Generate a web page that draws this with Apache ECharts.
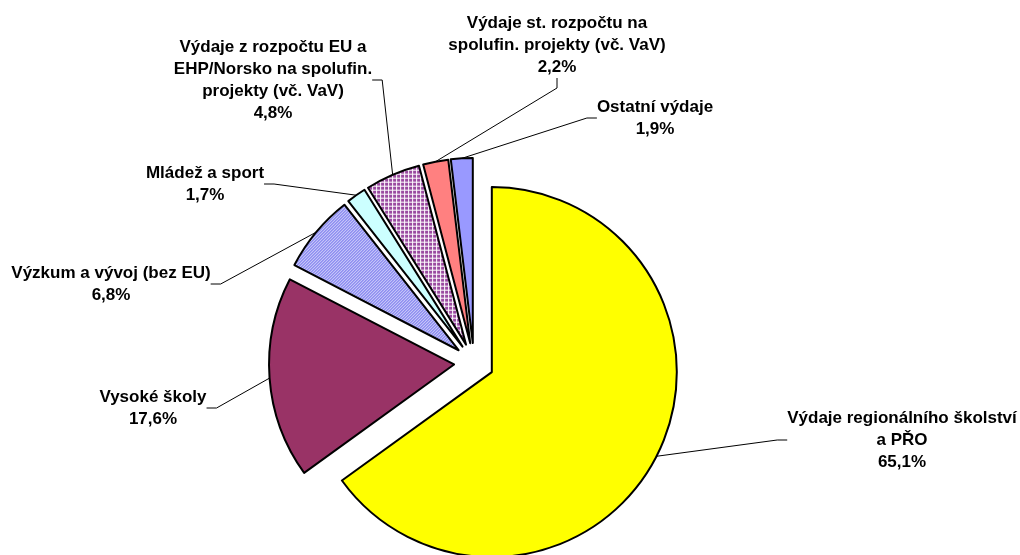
<!DOCTYPE html>
<html>
<head>
<meta charset="utf-8">
<script src="https://cdn.jsdelivr.net/npm/echarts@6/dist/echarts.min.js"></script>
<style>
html,body{margin:0;padding:0;background:#fff}
#main{width:1020px;height:555px}
</style>
</head>
<body>
<div id="main"></div>
<script>
// kategorie vydaju (po smeru hodin od 12:00)
var categories = [
	"Výdaje regionálního školství\na PŘO",
	"Vysoké školy",
	"Výzkum a vývoj (bez EU)",
	"Mládež a sport",
	"Výdaje z rozpočtu EU a\nEHP/Norsko na spolufin.\nprojekty (vč. VaV)",
	"Výdaje st. rozpočtu na\nspolufin. projekty (vč. VaV)",
	"Ostatní výdaje"
];
var shares = [65.1, 17.6, 6.8, 1.7, 4.8, 2.2, 1.9];

// umisteni popisku (stred bloku textu) a strana, kam vede odkazova cara
var labelPos = [[902,440],[153,408],[111,284],[205,184],[273,80],[557,45],[655,118]];
var labelSide = ['left','right','right','right','right','bottom','left'];

//jemny vzor pro srafovane vysece
function makePattern(size, bg, fg, fn){
	var c = document.createElement('canvas');
	c.width = c.height = size;
	var ctx = c.getContext('2d');
	ctx.fillStyle = bg;
	ctx.fillRect(0,0,size,size);
	ctx.fillStyle = fg;
	for(var x=0;x<size;x++){
		for(var y=0;y<size;y++){
			if(fn(x,y)) ctx.fillRect(x,y,1,1);
		}
	}
	return {image:c, repeat:'repeat'};
}
var diagBlue = makePattern(3,'#7a7aef','#ffffff',function(x,y){return (x+y)%3==0;});
var gridPurple = makePattern(4,'#9a4aa0','#ffffff',function(x,y){return x==0||y==0;});

var colors = ['#ffff00','#993366',diagBlue,'#ccffff',gridPurple,'#ff8080','#9999ff'];

var R = 185, OFFSET = 20;

function fmt(v){
	return v.toFixed(1).replace('.',',') + '%';
}

var sliceData = [], labelData = [];
for(var i=0;i<categories.length;i++){
	sliceData.push({
		name:categories[i],
		value:shares[i],
		selected:true,
		itemStyle:{color:colors[i]}
	});
	labelData.push({name:categories[i], value:shares[i]});
}

//popisky: cara zacina na okraji vysunute vysece v jejim stredu
function placeLabel(p){
	var pos = labelPos[p.dataIndex];
	var side = labelSide[p.dataIndex];
	var w = p.labelRect.width, h = p.labelRect.height;
	var ax = pos[0], ay = pos[1], ex = pos[0], ey = pos[1];
	var len = 10;
	if(side == 'left'){ ax = pos[0] - w/2; ex = ax - len; }
	else if(side == 'right'){ ax = pos[0] + w/2; ex = ax + len; }
	else if(side == 'bottom'){ ay = pos[1] + h/2; ey = ay + len; }
	else { ay = pos[1] - h/2; ey = ay - len; }
	var res = {x:pos[0], y:pos[1], align:'center', verticalAlign:'middle'};
	if(p.labelLinePoints){
		res.labelLinePoints = [p.labelLinePoints[0], [ex,ey], [ax,ay]];
	}
	return res;
}

var myChart = echarts.init(document.getElementById('main'));
var option = {
	animation:false,
	series:[{
		type:'pie',
		center:[474,363],
		radius:R,
		startAngle:90,
		clockwise:true,
		selectedMode:'multiple',
		selectedOffset:OFFSET,
		silent:true,
		itemStyle:{borderColor:'#000',borderWidth:2},
		select:{itemStyle:{borderColor:'#000',borderWidth:2}},
		emphasis:{disabled:true},
		label:{show:false},
		labelLine:{show:false},
		data:sliceData
	},{
		type:'pie',
		center:[474,363],
		radius:R + OFFSET,
		startAngle:90,
		clockwise:true,
		silent:true,
		avoidLabelOverlap:false,
		itemStyle:{color:'rgba(0,0,0,0)',borderWidth:0},
		emphasis:{disabled:true},
		label:{
			show:true,
			formatter:function(p){ return p.name + '\n' + fmt(p.value); },
			fontFamily:'Liberation Sans, Arial, sans-serif',
			fontWeight:'bold',
			fontSize:17,
			lineHeight:22,
			color:'#000',
			align:'center'
		},
		labelLine:{
			show:true,
			length:10,
			length2:10,
			minTurnAngle:0,
			lineStyle:{color:'#000',width:1}
		},
		labelLayout:placeLabel,
		data:labelData
	}]
};
myChart.setOption(option);
</script>
</body>
</html>
